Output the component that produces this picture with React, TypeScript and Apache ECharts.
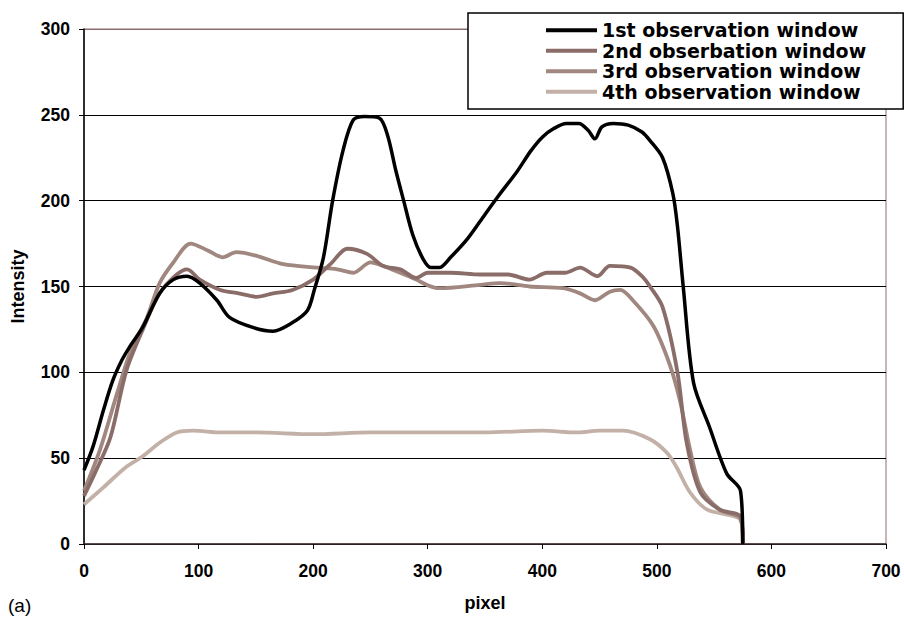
import React, { useEffect, useRef } from "react";
import * as echarts from "echarts";

const seriesNames = [
  "1st observation window",
  "2nd obserbation window",
  "3rd observation window",
  "4th observation window",
];

const w1X = [0, 8, 17, 25, 33, 40, 51, 66, 78, 90, 101, 116, 127, 148, 165, 182, 195, 201, 209, 217, 226, 235, 245, 258, 265, 272, 279, 287, 296, 303, 310, 320, 335, 350, 362, 378, 390, 400, 410, 421, 432, 440, 446, 452, 462, 475, 487, 494, 505, 514, 518, 523, 532, 546, 561, 573, 575];
const w1Y = [43, 57, 78, 95, 107, 115, 126, 146, 154, 156, 152, 142, 132, 126, 124, 129, 136, 148, 167, 200, 229, 247, 249, 248, 238, 218, 200, 180, 166, 161, 161, 167, 178, 192, 203, 217, 229, 237, 242, 245, 245, 241, 236, 243, 245, 244, 240, 235, 225, 204, 185, 150, 94, 68, 41, 31, 0];

const w2X = [0, 10, 23, 37, 52, 66, 81, 90, 101, 119, 135, 151, 165, 182, 200, 215, 230, 247, 261, 276, 290, 300, 320, 346, 370, 389, 404, 420, 433, 448, 459, 477, 487, 494, 505, 518, 526, 538, 555, 573, 575];
const w2Y = [28, 42, 62, 101, 126, 146, 157, 160, 154, 148, 146, 144, 146, 148, 154, 163, 172, 169, 162, 160, 155, 158, 158, 157, 157, 154, 158, 158, 161, 156, 162, 161, 156, 150, 138, 100, 59, 30, 20, 16, 0];

const w3X = [0, 14, 29, 40, 55, 66, 78, 93, 108, 121, 133, 150, 174, 203, 221, 235, 250, 261, 276, 290, 299, 310, 346, 363, 389, 418, 433, 446, 459, 468, 479, 497, 511, 520, 529, 538, 555, 573, 575];
const w3Y = [31, 55, 88, 111, 132, 152, 164, 175, 171, 167, 170, 168, 163, 161, 160, 158, 164, 162, 158, 154, 151, 149, 151, 152, 150, 149, 146, 142, 147, 148, 142, 127, 105, 84, 55, 33, 20, 15, 0];

const w4X = [0, 17, 37, 51, 66, 81, 95, 120, 150, 200, 250, 300, 350, 400, 430, 450, 470, 494, 509, 517, 529, 544, 573, 575];
const w4Y = [23, 33, 45, 51, 59, 65, 66, 65, 65, 64, 65, 65, 65, 66, 65, 66, 66, 61, 53, 45, 30, 20, 14, 0];

const xTicks = [0, 100, 200, 300, 400, 500, 600, 700];
const yTicks = [0, 50, 100, 150, 200, 250, 300];

const colors = ["#000000", "#8a6d68", "#a0877f", "#c3b1a8"];

function pairs(xs: number[], ys: number[]) {
  return xs.map((x, i) => [x, ys[i]]);
}

export default function App() {
  const ref = useRef<HTMLDivElement>(null);
  useEffect(() => {
    if (!ref.current) return;
    const chart = echarts.init(ref.current, null, { renderer: "svg" });
    const data = [pairs(w1X, w1Y), pairs(w2X, w2Y), pairs(w3X, w3Y), pairs(w4X, w4Y)];
    const zs = [6, 5, 4, 3];
    const widths = [3.5, 3.8, 3.8, 3.8];
    const font = "Liberation Sans, Arial, sans-serif";
    chart.setOption({
      animation: false,
      backgroundColor: "#ffffff",
      grid: {
        left: 84,
        right: 18,
        top: 29,
        bottom: 73,
        containLabel: false,
        outerBoundsMode: "none",
        show: true,
        borderColor: "#8c6c6c",
        borderWidth: 1,
      },
      xAxis: {
        type: "value",
        min: xTicks[0],
        max: xTicks[xTicks.length - 1],
        interval: 100,
        name: "pixel",
        nameLocation: "middle",
        nameGap: 50,
        nameTextStyle: { fontFamily: font, fontWeight: "bold", fontSize: 18, color: "#000" },
        axisLine: { show: true, lineStyle: { color: "#3a2a2a", width: 1.5 } },
        axisTick: { show: true, inside: false, length: 5, lineStyle: { color: "#000" } },
        axisLabel: { fontFamily: font, fontWeight: "bold", fontSize: 17.5, color: "#000", margin: 18 },
        splitLine: { show: false },
      },
      yAxis: {
        type: "value",
        min: yTicks[0],
        max: yTicks[yTicks.length - 1],
        interval: 50,
        name: "Intensity",
        nameLocation: "middle",
        nameGap: 57,
        nameRotate: 90,
        nameTextStyle: { fontFamily: font, fontWeight: "bold", fontSize: 18, color: "#000" },
        axisLine: { show: true, lineStyle: { color: "#000", width: 1.5 } },
        axisTick: { show: true, inside: false, length: 5, lineStyle: { color: "#000" } },
        axisLabel: { fontFamily: font, fontWeight: "bold", fontSize: 17.5, color: "#000", margin: 14 },
        splitLine: {
          show: true,
          lineStyle: { color: ["#000", "#000", "#000", "#000", "#000", "#000", "#8c6c6c"], width: 1 },
        },
      },
      legend: {
        data: seriesNames,
        orient: "vertical",
        left: 468,
        top: 13,
        padding: [7, 37, 7, 78],
        itemGap: 0,
        itemWidth: 51,
        itemHeight: 4,
        itemTextGap: 4,
        icon: "rect",
        backgroundColor: "#ffffff",
        borderColor: "#000",
        borderWidth: 1.5,
        textStyle: {
          fontFamily: "DejaVu Sans",
          fontWeight: "bold",
          fontSize: 19,
          lineHeight: 20.5,
          color: "#000",
        },
        z: 20,
      },
      graphic: [
        {
          type: "text",
          left: 8,
          top: 596,
          style: { text: "(a)", fontFamily: font, fontSize: 19, fill: "#000" },
        },
      ],
      series: seriesNames.map((name, i) => ({
        name,
        type: "line",
        data: data[i],
        showSymbol: false,
        symbol: "none",
        smooth: 0.3,
        z: zs[i],
        color: colors[i],
        lineStyle: { color: colors[i], width: widths[i] },
      })),
    });
    return () => chart.dispose();
  }, []);
  return (
    <div
      ref={ref}
      style={{ position: "fixed", left: 0, top: 0, width: 904, height: 617 }}
    />
  );
}
